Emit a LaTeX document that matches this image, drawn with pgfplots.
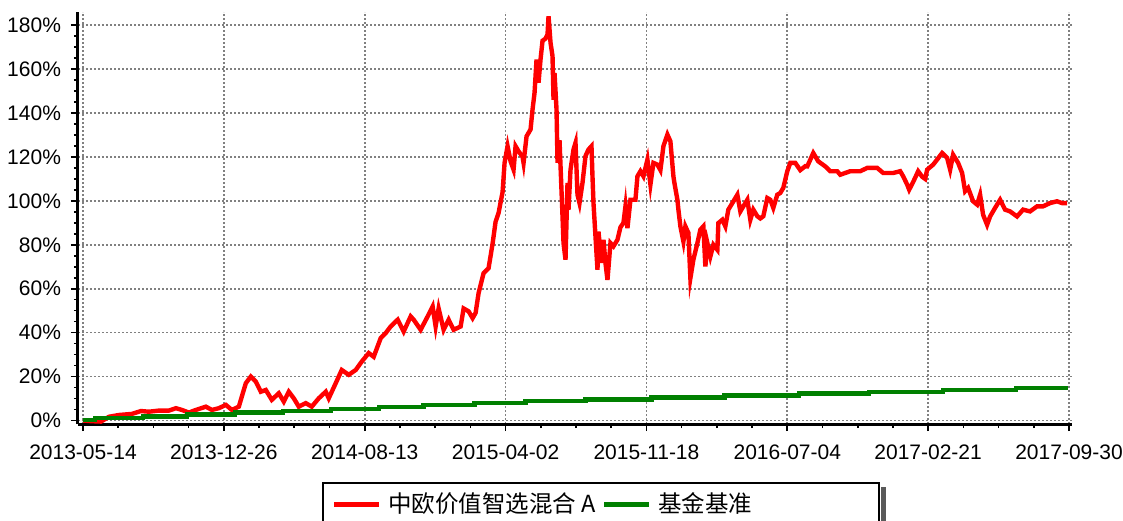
\documentclass[border=0pt]{standalone}
\usepackage{fontspec}
\setmainfont{Liberation Sans}
\newfontfamily\cjk{Noto Sans CJK SC}
\usepackage{pgfplots}
\pgfplotsset{compat=1.18}
\definecolor{fundred}{RGB}{255,0,0}
\definecolor{benchgreen}{RGB}{0,128,0}
\begin{document}
\begin{tikzpicture}
\useasboundingbox (-39pt,-48pt) rectangle (522.5pt,212pt);
\begin{axis}[
  scale only axis, width=497pt, height=206pt,
  xmin=-5, xmax=990, ymin=-1.6, ymax=186,
  axis x line*=bottom, axis y line*=left,
  axis line style={line width=1.5pt, black, -},
  xtick={0,141,282,423,564,705,846,987},
  xticklabels={2013-05-14,2013-12-26,2014-08-13,2015-04-02,2015-11-18,2016-07-04,2017-02-21,2017-09-30},
  ytick={0,20,...,180},
  yticklabel={\pgfmathprintnumber{\tick}\%},
  minor x tick num=3, minor y tick num=3,
  tick align=outside,
  major tick length=3.5pt, minor tick length=2pt,
  every tick/.style={black, line width=0.8pt},
  grid=major,
  major grid style={gray, dash pattern=on 0.8pt off 1.2pt, line width=0.8pt},
  /pgf/number format/assume math mode=true,
  ticklabel style={font=\fontsize{10.5}{12}\selectfont},
  xticklabel style={yshift=-3.5pt},
  yticklabel style={xshift=-1.5pt},
  legend columns=2,
  legend cell align=left,
  legend image code/.code={\draw[#1] (0pt,0pt) -- (22.5pt,0pt);},
  legend style={name=leg, at={(axis description cs:0.2455,-0.1408)}, anchor=north west,
    draw=black, line width=1pt, inner xsep=4.5pt, inner ysep=5pt,
    nodes={inner sep=0pt},
    font=\cjk\fontsize{11.75}{13}\selectfont,
    /tikz/every odd column/.append style={column sep=3.5pt},
    /tikz/every even column/.append style={column sep=3pt}},
]
\addplot[fundred, line width=2.2pt] coordinates {
(0,0) (8,-0.3) (18,-0.5) (26,1.7) (36,2.5) (49,3.0) (58,4.3) (66,4.0) (76,4.5) (86,4.5)
(93,5.6) (99,4.8) (106,3.6) (113,4.8) (123,6.3) (129,4.8) (136,5.6) (143,7.1) (149,4.8) (156,6.3)
(159,10.9) (163,17) (168,20) (173,17.7) (178,13.1) (183,13.9) (189,9.4) (196,12.4) (201,8.6) (206,13.1)
(211,10.1) (216,6.3) (223,7.9) (229,6.3) (236,10.1) (243,13.1) (246,10.1) (253,17) (259,23) (266,20.8)
(273,23) (279,26.8) (286,30.7) (291,29) (298,37.5) (303,39.8) (308,42.8) (315,45.9) (321,40.5) (328,47.4)
(331,45.9) (338,41.3) (345,47.4) (350,51.9) (353,42.8) (356,51) (361,41.3) (366,45.9) (371,41.3) (378,42.8)
(381,51) (386,49.7) (390,46.6) (393,49) (396,58) (401,67.1) (406,69.4) (410,80.5) (413,90.5) (416,94.5)
(420,104) (422,117.3) (425,124.9) (428,118) (431,114.2) (433,124.9) (436,122.6) (440,120) (441,117.3) (444,129.4)
(448,132.5) (450,141.6) (452,149.2) (454,164.4) (456,153.8) (458,164.4) (460,172.9) (463,173.9) (465,175.8) (466,184.1)
(468,172) (470,165.9) (471,146) (472,158.2) (474,141.6) (475,117.3) (477,127.6) (480,93) (481,80.8) (483,73.2)
(485,108.2) (486,96) (488,114.2) (491,123.4) (493,126.4) (495,102.8) (497,99) (500,108.2) (503,120.4) (506,123.4)
(509,124.9) (510,111.2) (511,99) (513,83.8) (515,68.6) (516,86) (519,71.7) (521,82.3) (523,71.7) (525,64)
(528,80.8) (531,79.3) (535,82.3) (538,88) (541,90) (543,97.5) (545,87.6) (548,100.5) (553,100.5) (555,111.2)
(558,113.5) (561,111.2) (565,118.8) (568,107.4) (571,117.3) (575,116.5) (578,114) (581,124.9) (585,130.2) (588,127.1)
(591,111.2) (592,108.2) (595,100.5) (596,96) (598,88.4) (601,81.5) (603,88.4) (606,85.4) (608,64.8) (611,73.2)
(615,80.8) (618,86.9) (621,88.4) (623,70.1) (625,80.8) (628,74.7) (631,80) (635,77.7) (636,89.9) (640,91.4)
(643,88.4) (646,96) (650,99) (655,102.8) (658,95.2) (661,97.5) (665,100.5) (668,91.4) (671,96) (675,93)
(678,92) (681,93) (685,101.3) (688,100.5) (691,96.8) (695,102.8) (698,103.6) (701,105.9) (705,113.5) (708,117.3)
(713,117.3) (718,114) (723,115.8) (725,115.7) (731,121.8) (736,118) (743,115.7) (748,113.5) (755,113.5) (758,111.9)
(768,113.5) (778,113.5) (785,115) (795,115) (801,112.7) (811,112.7) (818,113.5) (821,111.2) (825,107.4) (827,105.1)
(831,108.6) (836,113.5) (840,111) (843,110) (845,114.2) (851,116.5) (855,118.8) (860,121.8) (865,119.6) (868,114.2)
(871,121) (876,117.3) (880,112.7) (883,104.4) (886,105.9) (891,99.8) (895,98.3) (898,102.8) (901,93.7) (905,89.1)
(908,92.9) (913,96.8) (918,100.5) (923,96) (928,95.2) (935,92.9) (941,96) (948,95.2) (955,97.5) (961,97.5)
(968,99) (975,99.8) (980,99) (985,99)
};
\addlegendentry{中欧价值智选混合 A}
\addplot[benchgreen, line width=2.2pt, const plot] coordinates {
(0,0.2) (12,1.0) (60,1.86) (104,2.73) (152,3.59) (200,4.45) (248,5.31) (296,6.18) (341,7.04) (392,7.9)
(443,8.76) (503,9.63) (569,10.49) (642,11.35) (717,12.21) (787,13.08) (861,13.94) (934,14.8) (986,14.8)
};
\addlegendentry{\makebox[106pt][l]{基金基准}}
\end{axis}
\fill[black!65] ([xshift=0.5pt,yshift=-2.5pt]leg.north east) rectangle ([xshift=2.8pt,yshift=-2.5pt]leg.south east);
\end{tikzpicture}
\end{document}
